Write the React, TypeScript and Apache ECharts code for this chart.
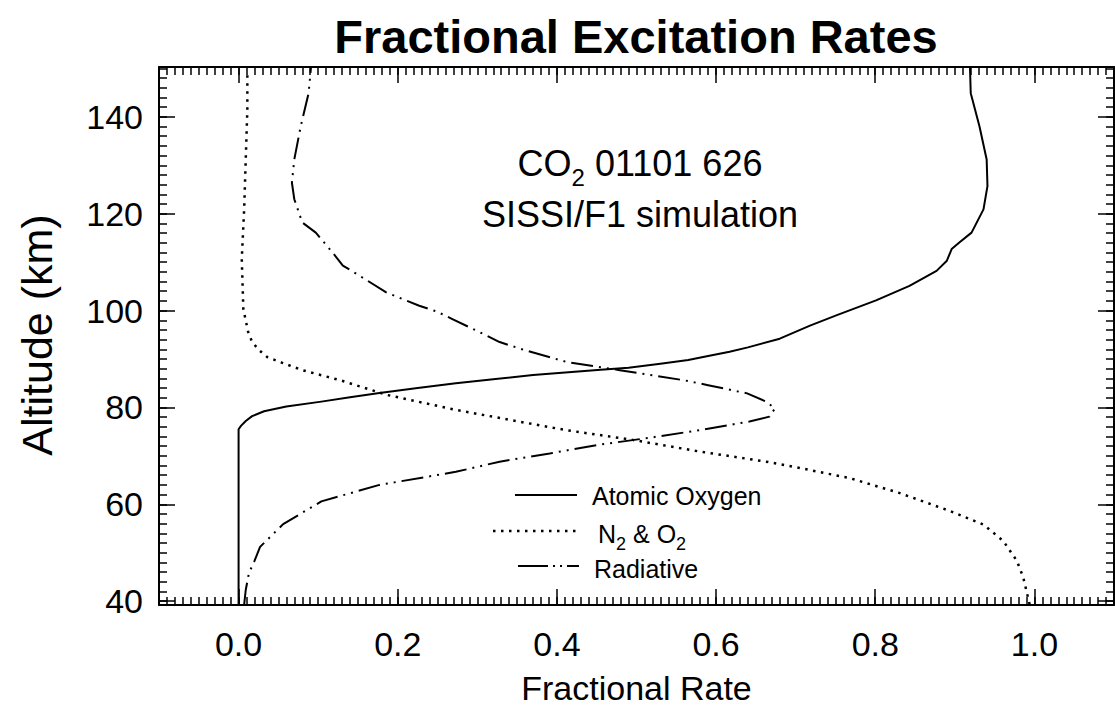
import React, { useEffect, useRef } from "react";
import * as echarts from "echarts";

// ---- Data ----
const oxygenAlt = [39.3, 75.5, 76.2, 77.2, 78.2, 79.2, 80.2, 81.2, 82.1, 83.0, 84.0, 85.0, 85.8, 86.7, 87.8, 88.2, 89.0, 89.8, 90.6, 91.5, 92.4, 94.2, 96.9, 99.0, 102.1, 105.1, 108.2, 110.3, 112.7, 114.1, 116.1, 120.9, 125.7, 131.2, 138.0, 144.9, 150.3];
const oxygenRate = [0, 0, 0.003, 0.009, 0.017, 0.032, 0.06, 0.104, 0.14, 0.177, 0.225, 0.273, 0.32, 0.37, 0.455, 0.49, 0.53, 0.565, 0.59, 0.617, 0.64, 0.68, 0.718, 0.751, 0.801, 0.843, 0.877, 0.89, 0.896, 0.906, 0.921, 0.936, 0.941, 0.94, 0.931, 0.92, 0.919];

const n2o2Alt = [39.3, 40.7, 44.9, 48.3, 52.4, 55.8, 58.6, 62.3, 65.4, 67.5, 68.8, 70.9, 73.3, 75.3, 77.3, 79.5, 82.6, 85.6, 87.7, 89.2, 90.4, 91.8, 93.5, 95.6, 100.3, 110.6, 120.9, 131.2, 141.5, 149.5];
const n2o2Rate = [0.994, 0.992, 0.986, 0.978, 0.961, 0.936, 0.894, 0.831, 0.768, 0.705, 0.663, 0.579, 0.495, 0.412, 0.345, 0.273, 0.186, 0.128, 0.08, 0.055, 0.036, 0.026, 0.017, 0.012, 0.006, 0.004, 0.007, 0.009, 0.011, 0.011];

const radiativeAlt = [39.3, 42.3, 45.8, 48.3, 51.2, 55.9, 60.6, 64.0, 66.7, 68.8, 70.5, 72.3, 73.7, 75.3, 77.1, 78.1, 79.8, 81.2, 82.9, 84.6, 85.6, 87.7, 89.4, 91.8, 93.5, 94.9, 98.3, 99.8, 101.0, 103.8, 107.2, 109.3, 112.0, 116.1, 118.2, 123.0, 126.4, 131.2, 138.0, 144.9, 150.3];
const radiativeRate = [0.007, 0.009, 0.013, 0.02, 0.027, 0.056, 0.104, 0.177, 0.273, 0.328, 0.391, 0.453, 0.515, 0.579, 0.642, 0.667, 0.674, 0.663, 0.639, 0.59, 0.56, 0.479, 0.412, 0.36, 0.328, 0.311, 0.268, 0.249, 0.227, 0.185, 0.152, 0.131, 0.118, 0.097, 0.08, 0.07, 0.067, 0.07, 0.078, 0.088, 0.091];

const xMajorTicks = [0, 0.2, 0.4, 0.6, 0.8, 1.0];
const yMajorTicks = [40, 60, 80, 100, 120, 140];
const X_MIN = -0.1;
const X_MAX = 1.1;
const Y_MIN = 39.2;
const Y_MAX = 150.3;

const xMinorTicks: number[] = [];
for (let i = -10; i <= 110; i++) xMinorTicks.push(i / 100);
const yMinorTicks: number[] = [];
for (let v = 40; v <= 150; v += 2) yMinorTicks.push(v);

const zip = (xs: number[], ys: number[]) => xs.map((x, i) => [x, ys[i]]);

const FONT = "'Liberation Sans', Arial, Helvetica, sans-serif";
const BLACK = "#000";

const MAJOR_LEN = 16;
const MINOR_LEN = 8;

function makeXAxis(position: "top" | "bottom", major: boolean, withLabels: boolean) {
  return {
    type: "value",
    position,
    min: X_MIN,
    max: X_MAX,
    axisLine: { show: major, onZero: false, lineStyle: { color: BLACK, width: 2 } },
    axisTick: {
      show: true,
      inside: true,
      length: major ? MAJOR_LEN : MINOR_LEN,
      customValues: major ? xMajorTicks : xMinorTicks,
      lineStyle: { color: BLACK, width: 1.5 },
    },
    axisLabel: withLabels
      ? {
          show: true,
          customValues: xMajorTicks,
          formatter: (v: number) => v.toFixed(1),
          fontSize: 34,
          color: BLACK,
          fontFamily: FONT,
          margin: 22,
        }
      : { show: false },
    splitLine: { show: false },
    name: withLabels ? "Fractional Rate" : "",
    nameLocation: "middle",
    nameGap: 66,
    nameTextStyle: { fontSize: 34, color: BLACK, fontFamily: FONT },
  };
}

function makeYAxis(position: "left" | "right", major: boolean, withLabels: boolean) {
  return {
    type: "value",
    position,
    min: Y_MIN,
    max: Y_MAX,
    axisLine: { show: major, onZero: false, lineStyle: { color: BLACK, width: 2 } },
    axisTick: {
      show: true,
      inside: true,
      length: major ? MAJOR_LEN : MINOR_LEN,
      customValues: major ? yMajorTicks : yMinorTicks,
      lineStyle: { color: BLACK, width: 1.5 },
    },
    axisLabel: withLabels
      ? {
          show: true,
          customValues: yMajorTicks,
          formatter: (v: number) => String(Math.round(v)),
          fontSize: 34,
          color: BLACK,
          fontFamily: FONT,
          margin: 16,
        }
      : { show: false },
    splitLine: { show: false },
  };
}

const DASH_DOT = [22, 6, 2, 6, 2, 6];
const DOTTED = [2.5, 5.5];

export default function App() {
  const ref = useRef<HTMLDivElement>(null);

  useEffect(() => {
    if (!ref.current) return;
    const chart = echarts.init(ref.current, undefined, { renderer: "svg" });

    const lineCommon = {
      type: "line",
      xAxisIndex: 0,
      yAxisIndex: 0,
      showSymbol: false,
      symbol: "none",
      smooth: false,
    };

    const option: any = {
      animation: false,
      backgroundColor: "#fff",
      grid: { left: 159, right: 1, top: 67, bottom: 103, containLabel: false },
      xAxis: [
        makeXAxis("bottom", true, true),
        makeXAxis("bottom", false, false),
        makeXAxis("top", true, false),
        makeXAxis("top", false, false),
      ],
      yAxis: [
        makeYAxis("left", true, true),
        makeYAxis("left", false, false),
        makeYAxis("right", true, false),
        makeYAxis("right", false, false),
      ],
      series: [
        {
          ...lineCommon,
          name: "Atomic Oxygen",
          data: zip(oxygenRate, oxygenAlt),
          lineStyle: { color: BLACK, width: 2, type: "solid", join: "round" },
        },
        {
          ...lineCommon,
          name: "N2 & O2",
          data: zip(n2o2Rate, n2o2Alt),
          lineStyle: { color: BLACK, width: 2.5, type: DOTTED },
        },
        {
          ...lineCommon,
          name: "Radiative",
          data: zip(radiativeRate, radiativeAlt),
          lineStyle: { color: BLACK, width: 2, type: DASH_DOT },
        },
      ],
      graphic: [
        {
          type: "text",
          x: 636,
          y: 36,
          style: {
            text: "Fractional Excitation Rates",
            font: `bold 47px ${FONT}`,
            fill: BLACK,
            align: "center",
            verticalAlign: "middle",
          },
        },
        {
          type: "text",
          x: 37,
          y: 335,
          rotation: Math.PI / 2,
          style: {
            text: "Altitude (km)",
            font: `43px ${FONT}`,
            fill: BLACK,
            align: "center",
            verticalAlign: "middle",
          },
        },
        {
          type: "text",
          x: 640,
          y: 165,
          style: {
            text: "{n|CO}{s|2}{n| 01101 626}",
            align: "center",
            verticalAlign: "middle",
            fill: BLACK,
            rich: {
              n: { fontSize: 36, fontFamily: FONT, lineHeight: 40, verticalAlign: "top", fill: BLACK },
              s: { fontSize: 24, fontFamily: FONT, lineHeight: 40, padding: [20, 0, 0, 0], verticalAlign: "top", fill: BLACK },
            },
          },
        },
        {
          type: "text",
          x: 640,
          y: 214,
          style: {
            text: "SISSI/F1 simulation",
            font: `36px ${FONT}`,
            fill: BLACK,
            align: "center",
            verticalAlign: "middle",
          },
        },
        // legend
        {
          type: "line",
          shape: { x1: 515, y1: 495, x2: 577, y2: 495 },
          style: { stroke: BLACK, lineWidth: 2 },
        },
        {
          type: "line",
          shape: { x1: 493, y1: 531, x2: 577, y2: 531 },
          style: { stroke: BLACK, lineWidth: 2.5, lineDash: DOTTED },
        },
        {
          type: "line",
          shape: { x1: 518, y1: 566, x2: 579, y2: 566 },
          style: { stroke: BLACK, lineWidth: 2, lineDash: [30, 5, 2, 5, 2, 5] },
        },
        {
          type: "text",
          x: 592,
          y: 496,
          style: {
            text: "Atomic Oxygen",
            font: `25px ${FONT}`,
            fill: BLACK,
            align: "left",
            verticalAlign: "middle",
          },
        },
        {
          type: "text",
          x: 598,
          y: 535,
          style: {
            text: "{n|N}{s|2}{n| & O}{s|2}",
            align: "left",
            verticalAlign: "middle",
            fill: BLACK,
            rich: {
              n: { fontSize: 25, fontFamily: FONT, lineHeight: 28, verticalAlign: "top", fill: BLACK },
              s: { fontSize: 18, fontFamily: FONT, lineHeight: 28, padding: [14, 0, 0, 0], verticalAlign: "top", fill: BLACK },
            },
          },
        },
        {
          type: "text",
          x: 594,
          y: 569,
          style: {
            text: "Radiative",
            font: `25px ${FONT}`,
            fill: BLACK,
            align: "left",
            verticalAlign: "middle",
          },
        },
      ],
    };

    chart.setOption(option);
    return () => chart.dispose();
  }, []);

  return (
    <div
      ref={ref}
      style={{ position: "absolute", left: 0, top: 0, width: 1115, height: 710, background: "#fff" }}
    />
  );
}
